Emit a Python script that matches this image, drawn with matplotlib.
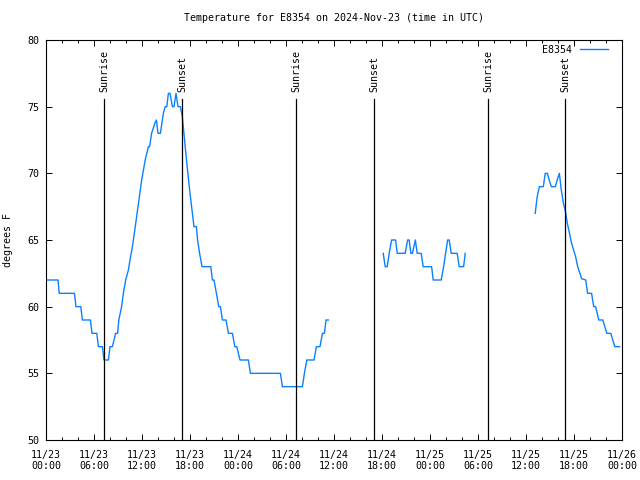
import matplotlib
matplotlib.use("Agg")
import matplotlib.dates as mdates
import matplotlib.pyplot as plt
import numpy as np
import pandas as pd
from matplotlib.ticker import MultipleLocator


START = pd.Timestamp("2024-11-23 00:00")
STATION = "E8354"
LINE_COLOR = "#0a80ff"

# hours since 11/23 00:00 UTC, temperature in degrees F (three logged stretches)
seg1_hours = [0.0, 1.5, 1.65, 3.55, 3.75, 4.35, 4.55, 5.55, 5.75, 6.35, 6.55, 7.05,
              7.25, 7.8, 8.0, 8.3, 8.5, 8.7, 8.95, 9.1, 9.45, 9.67, 9.96, 10.3,
              10.5, 10.8, 11.1, 11.5, 11.96, 12.4, 12.8, 12.95, 13.2, 13.6, 13.8, 14.0,
              14.3, 14.67, 14.9, 15.1, 15.3, 15.5, 15.8, 16.0, 16.25, 16.5, 16.8, 17.04,
              17.2, 17.4, 17.6, 18.0, 18.2, 18.5, 18.8, 18.95, 19.2, 19.5, 20.6, 20.8,
              21.0, 21.3, 21.6, 21.8, 22.05, 22.5, 22.8, 23.3, 23.6, 23.85, 24.25, 25.3,
              25.55, 29.3, 29.55, 32.05, 32.3, 32.6, 33.5, 33.8, 34.25, 34.55, 34.8, 35.0,
              35.3]
seg1_temps = [62, 62, 61, 61, 60, 60, 59, 59, 58, 58, 57, 57,
              56, 56, 57, 57, 57.5, 58, 58, 59, 60, 61, 62, 62.75,
              63.5, 64.5, 65.75, 67.5, 69.5, 71, 72, 72, 73, 73.75, 74, 73,
              73, 74.5, 75, 75, 76, 76, 75, 75, 76, 75, 75, 74.25,
              73.25, 72, 70.75, 68.5, 67.5, 66, 66, 65, 64, 63, 63, 62,
              62, 61, 60, 60, 59, 59, 58, 58, 57, 57, 56, 56,
              55, 55, 54, 54, 55, 56, 56, 57, 57, 58, 58, 59,
              59]

seg2_hours = [42.15, 42.4, 42.65, 42.9, 43.2, 43.7, 43.9, 44.9, 45.2, 45.4, 45.6, 45.8,
              46.17, 46.4, 46.9, 47.15, 48.2, 48.4, 49.4, 49.7, 49.95, 50.2, 50.4, 50.65,
              51.4, 51.65, 52.2, 52.4]
seg2_temps = [64, 63, 63, 64, 65, 65, 64, 64, 65, 65, 64, 64,
              65, 64, 64, 63, 63, 62, 62, 63, 64, 65, 65, 64,
              64, 63, 63, 64]

seg3_hours = [61.15, 61.4, 61.67, 62.17, 62.4, 62.67, 62.9, 63.17, 63.67, 63.9, 64.17, 64.4,
              64.67, 64.9, 65.17, 65.7, 66.2, 66.46, 66.96, 67.46, 67.7, 68.2, 68.46, 68.7,
              69.1, 69.6, 70.1, 70.6, 71.1, 71.7]
seg3_temps = [67, 68.25, 69, 69, 70, 70, 69.5, 69, 69, 69.5, 70, 68.8,
              67.75, 67.25, 66.25, 64.75, 63.75, 63, 62.1, 62, 61, 61, 60, 60,
              59, 59, 58, 58, 57, 57]

sun_times = ["2024-11-23 07:17", "2024-11-23 17:02", "2024-11-24 07:17",
             "2024-11-24 17:02", "2024-11-25 07:17", "2024-11-25 16:56"]
sun_labels = ["Sunrise", "Sunset", "Sunrise", "Sunset", "Sunrise", "Sunset"]


def to_times(hours):
    return START + pd.to_timedelta(np.asarray(hours, dtype=float), unit="h")


plt.rcParams["font.family"] = ["DejaVu Sans Mono", "DejaVu Sans"]
FS = 7.2

fig = plt.figure(figsize=(6.4, 4.8), dpi=100)
ax = fig.add_axes([46 / 640, 40 / 480, 576 / 640, 400 / 480])

segments = [(seg1_hours, seg1_temps), (seg2_hours, seg2_temps), (seg3_hours, seg3_temps)]
for i, (hours, temps) in enumerate(segments):
    ax.plot(to_times(hours), temps, color=LINE_COLOR, linewidth=1.0,
            label=STATION if i == 0 else None)

for when, label in zip(sun_times, sun_labels):
    t = pd.Timestamp(when)
    ax.axvline(t, ymin=0, ymax=0.8525, color="black", linewidth=0.9)
    ax.text(t, 0.87, label, transform=ax.get_xaxis_transform(), rotation=90,
            ha="center", va="bottom", fontsize=FS)

ax.set_xlim(START, START + pd.Timedelta(hours=72))
ax.set_ylim(50, 80)
ax.xaxis.set_major_locator(mdates.HourLocator(byhour=[0, 6, 12, 18]))
ax.xaxis.set_minor_locator(mdates.HourLocator(byhour=range(0, 24, 2)))
ax.xaxis.set_major_formatter(mdates.DateFormatter("%m/%d\n%H:%M"))
ax.yaxis.set_major_locator(MultipleLocator(5))

ax.tick_params(which="both", direction="in", top=True, right=True, labelsize=FS, width=0.7)
ax.tick_params(which="major", length=4)
ax.tick_params(which="minor", length=2)
ax.tick_params(axis="x", which="major", pad=7)
ax.tick_params(axis="y", which="major", pad=5)
for spine in ax.spines.values():
    spine.set_linewidth(0.8)

ax.set_ylabel("degrees F", fontsize=FS, labelpad=10)
ax.set_title("Temperature for E8354 on 2024-Nov-23 (time in UTC)", fontsize=FS, pad=14)
ax.legend(loc="upper right", frameon=False, markerfirst=False, fontsize=FS,
          handlelength=2.8, borderaxespad=0.1, bbox_to_anchor=(0.985, 1.0))

fig.savefig("out.png", dpi=100)
